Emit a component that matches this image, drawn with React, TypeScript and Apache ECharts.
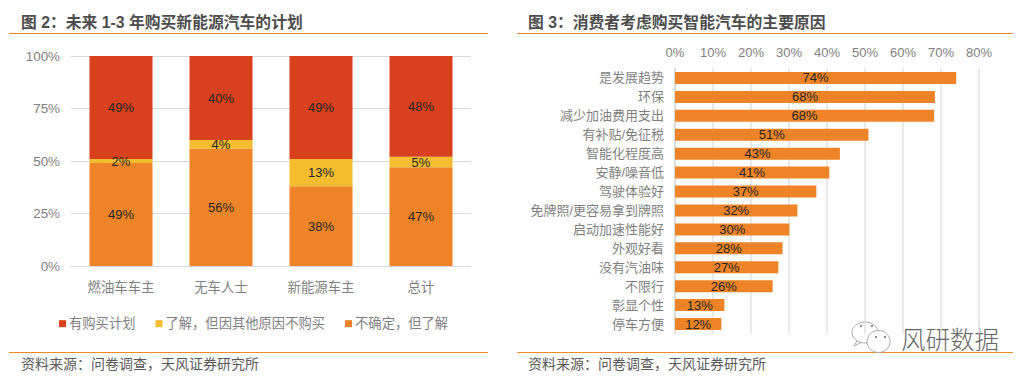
import React, { useEffect, useRef } from "react";
import * as echarts from "echarts";

const FONT = '"Liberation Sans", "Noto Sans CJK SC", sans-serif';
const leftTitle = "图 2：未来 1-3 年购买新能源汽车的计划";
const rightTitle = "图 3：消费者考虑购买智能汽车的主要原因";
const sourceText = "资料来源：问卷调查，天风证券研究所";
const watermark = "风研数据";

const leftCategories = ["燃油车车主", "无车人士", "新能源车主", "总计"];
const planToBuy = [49, 40, 49, 48];
const awareNoBuy = [2, 4, 13, 5];
const unsure = [49, 56, 38, 47];
const planName = "有购买计划";
const awareName = "了解，但因其他原因不购买";
const unsureName = "不确定，但了解";

const reasons = ["是发展趋势", "环保", "减少加油费用支出", "有补贴/免征税", "智能化程度高", "安静/噪音低", "驾驶体验好", "免牌照/更容易拿到牌照", "启动加速性能好", "外观好看", "没有汽油味", "不限行", "彰显个性", "停车方便"];
const reasonValues = [74.0, 68.4, 68.2, 50.9, 43.4, 40.6, 37.2, 32.2, 30.1, 28.3, 27.2, 25.7, 13.0, 12.2];

const RED = "#D9411E";
const YELLOW = "#F4BC2F";
const ORANGE = "#EE8427";
const RULE = "#E9842F";
const AXIS_TEXT = "#7F7F7F";
const LABEL = "#262626";

function stacked(name: string, data: number[], color: string) {
  return {
    name, type: "bar", stack: "a", xAxisIndex: 0, yAxisIndex: 0, data, barWidth: 63,
    itemStyle: { color },
    label: { show: true, position: "inside", color: LABEL, fontSize: 13, fontFamily: FONT, formatter: (p: any) => `${p.value}%` },
  };
}

function txt(x: number, y: number, text: string, fontSize: number, fill: string, fontWeight: any = "normal") {
  return { type: "text", x, y, silent: true, style: { text, fontSize, fontWeight, fill, fontFamily: FONT, textVerticalAlign: "middle" } };
}
function rule(x1: number, x2: number, y: number, stroke: string) {
  return { type: "line", silent: true, shape: { x1, y1: y, x2, y2: y }, style: { stroke, lineWidth: 1 } };
}
function bubble(cx: number, cy: number, rx: number, ry: number) {
  return { type: "ellipse", silent: true, shape: { cx, cy, rx, ry }, style: { fill: "#fff", stroke: "#AAA", lineWidth: 1 } };
}
function dot(cx: number, cy: number) {
  return { type: "circle", silent: true, shape: { cx, cy, r: 1.2 }, style: { fill: "#888" } };
}
function tail(points: number[][]) {
  return { type: "polyline", silent: true, shape: { points }, style: { stroke: "#AAA", fill: "none", lineWidth: 1 } };
}

export default function App() {
  const ref = useRef<HTMLDivElement>(null);
  useEffect(() => {
    document.body.style.margin = "0";
    const chart = echarts.init(ref.current!, null, { renderer: "svg" });
    chart.setOption({
      animation: false,
      backgroundColor: "#fff",
      textStyle: { fontFamily: FONT },
      grid: [
        { left: 71, width: 400, top: 56, height: 210 },
        { left: 675, width: 304, top: 68.5, height: 265 },
      ],
      legend: {
        left: 54, top: 312, itemWidth: 7, itemHeight: 7, itemGap: 20, icon: "rect",
        textStyle: { color: AXIS_TEXT, fontSize: 13.3, fontFamily: FONT, padding: [0, 0, 0, -2] },
        data: [planName, awareName, unsureName],
      },
      xAxis: [
        {
          gridIndex: 0, type: "category", data: leftCategories,
          axisTick: { show: false }, axisLine: { lineStyle: { color: "#D9D9D9" } },
          axisLabel: { color: AXIS_TEXT, fontSize: 13.4, margin: 15, interval: 0 },
        },
        {
          gridIndex: 1, type: "value", position: "top", min: 0, max: 80, interval: 10,
          axisLine: { show: false }, axisTick: { show: false },
          splitLine: { lineStyle: { color: "#E2E2E2", width: 1.5 } },
          axisLabel: { color: AXIS_TEXT, fontSize: 13, margin: 10, formatter: "{value}%" },
        },
      ],
      yAxis: [
        {
          gridIndex: 0, type: "value", min: 0, max: 100, interval: 25,
          axisLine: { show: false }, axisTick: { show: false },
          splitLine: { lineStyle: { color: "#D9D9D9" } },
          axisLabel: { color: AXIS_TEXT, fontSize: 13.4, margin: 11, formatter: "{value}%" },
        },
        {
          gridIndex: 1, type: "category", inverse: true, data: reasons,
          axisLine: { show: true, lineStyle: { color: "#D9D9D9", width: 1.5 } }, axisTick: { show: false },
          axisLabel: { color: AXIS_TEXT, fontSize: 13, margin: 11, interval: 0, padding: [2, 0, 0, 0] },
        },
      ],
      series: [
        stacked(unsureName, unsure, ORANGE),
        stacked(awareName, awareNoBuy, YELLOW),
        stacked(planName, planToBuy, RED),
        {
          name: "原因", type: "bar", xAxisIndex: 1, yAxisIndex: 1, data: reasonValues, barWidth: 12,
          itemStyle: { color: ORANGE },
          label: { show: true, position: "inside", color: LABEL, fontSize: 13, fontFamily: FONT, padding: [2, 0, 0, 0], formatter: (p: any) => `${Math.round(p.value)}%` },
        },
      ],
      graphic: [
        txt(21, 22, leftTitle, 15.8, "#4D4D4D", "bold"),
        txt(528, 22, rightTitle, 15.8, "#4D4D4D", "bold"),
        rule(9, 488, 33.5, RULE),
        rule(517, 1013, 33.5, RULE),
        { type: "rect", silent: true, shape: { x: 850, y: 326, width: 152, height: 26 }, style: { fill: "#fff" } },
        rule(9, 488, 352.5, "#F08A24"),
        rule(517, 1013, 352.5, "#F08A24"),
        txt(21, 364, sourceText, 14, "#595959"),
        txt(528, 364, sourceText, 14, "#595959"),
        bubble(865, 332.5, 13, 10.5),
        tail([[857, 341], [854, 346], [861, 342.5]]),
        bubble(878.5, 341.5, 11.5, 11),
        dot(861, 326), dot(872, 326), dot(876, 337), dot(885, 337),
        { type: "text", x: 901, y: 338, silent: true, style: { text: watermark, fontSize: 24.5, fill: "#666", fontFamily: '"Noto Sans CJK SC"', fontWeight: 300, textVerticalAlign: "middle" } },
      ],
    });
    return () => chart.dispose();
  }, []);
  return <div ref={ref} style={{ width: 1032, height: 383 }} />;
}
